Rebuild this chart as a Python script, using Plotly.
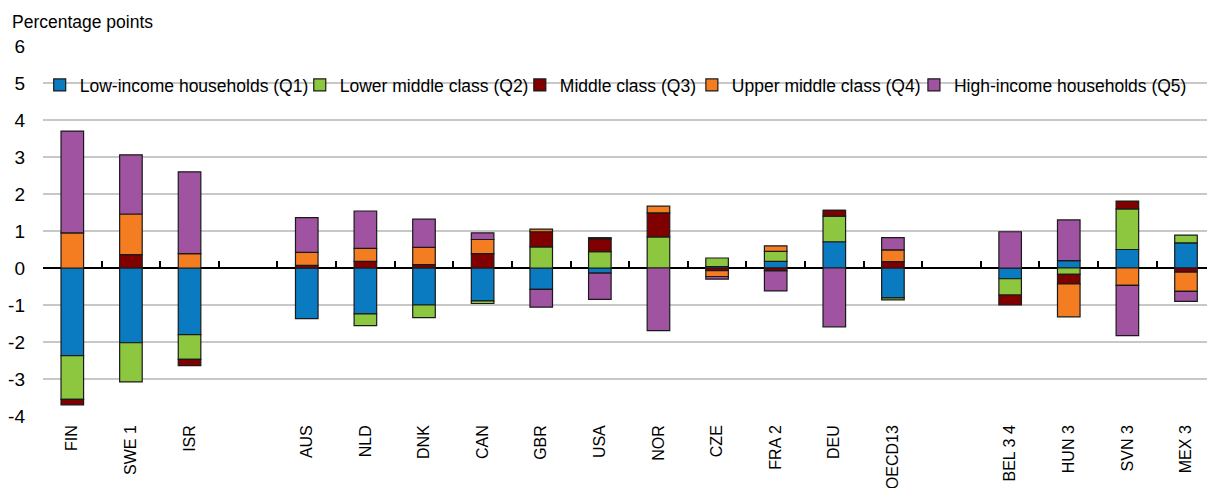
import plotly.graph_objects as go

categories = ["FIN", "SWE 1", "ISR", " ", "AUS", "NLD", "DNK", "CAN", "GBR", "USA",
              "NOR", "CZE", "FRA 2", "DEU", "OECD13", "  ", "BEL 3 4", "HUN 3", "SVN 3", "MEX 3"]

q1_low_income = [-2.37, -2.02, -1.80, None, -1.37, -1.24, -1.00, -0.89, -0.58, -0.14,
                 0.0, 0.04, 0.18, 0.71, -0.81, None, -0.29, 0.20, 0.50, 0.68]
q2_lower_middle = [-1.18, -1.06, -0.67, None, 0.0, -0.32, -0.34, -0.07, 0.57, 0.44,
                   0.84, 0.23, 0.27, 0.69, -0.05, None, -0.44, -0.17, 1.10, 0.21]
q3_middle = [-0.15, 0.36, -0.17, None, 0.07, 0.18, 0.09, 0.39, 0.41, 0.35,
             0.65, -0.07, -0.08, 0.16, 0.17, None, -0.27, -0.26, 0.21, -0.11]
q4_upper_middle = [0.95, 1.10, 0.39, None, 0.35, 0.35, 0.47, 0.38, 0.07, 0.03,
                   0.18, -0.16, 0.15, 0.0, 0.32, None, 0.0, -0.89, -0.47, -0.52]
q5_high_income = [2.75, 1.60, 2.21, None, 0.94, 1.01, 0.76, 0.18, -0.48, -0.71,
                  -1.69, -0.07, -0.54, -1.59, 0.33, None, 0.98, 1.10, -1.36, -0.27]

series_names = ["Low-income households (Q1)", "Lower middle class (Q2)", "Middle class (Q3)",
                "Upper middle class (Q4)", "High-income households (Q5)"]
series_values = [q1_low_income, q2_lower_middle, q3_middle, q4_upper_middle, q5_high_income]
series_colors = ["#0A7BC1", "#8DC63F", "#800000", "#F47D22", "#A053A0"]

y_ticks = [-4, -3, -2, -1, 0, 1, 2, 3, 4, 5, 6]
y_ticktext = ["-4", "-3", "-2", "-1", "0", "1", "2", "3", "4", "5", "6"]

W, H = 1207, 488
ML, MT, MR = 43.3, 46, 0
PLOT_BOTTOM = 415.7
MB = H - PLOT_BOTTOM
PW = W - ML - MR
PH = PLOT_BOTTOM - MT
FONT = "Liberation Sans, Arial, sans-serif"
TITLE_FS = 17.5
LEG_FS = 17.5
XT_FS = 16
YT_FS = 19

fig = go.Figure()
legend_names = ["legend", "legend2", "legend3", "legend4", "legend5"]
for name, vals, col, lg in zip(series_names, series_values, series_colors, legend_names):
    fig.add_trace(go.Bar(
        x=categories, y=vals, name=name, legend=lg,
        marker=dict(color=col, line=dict(color="#1a1a1a", width=1.2)),
        xaxis="x", yaxis="y",
    ))

# invisible helper trace for the label axis
fig.add_trace(go.Scatter(x=categories, y=[None] * len(categories), xaxis="x2", yaxis="y",
                         showlegend=False, hoverinfo="skip", mode="markers"))

# legend placement
legend_anchor_px = [56, 316, 536, 708, 930]
legend_layout = {}
for lg, px in zip(legend_names, legend_anchor_px):
    legend_layout[lg] = dict(
        orientation="h", x=(px - 16 - ML) / PW, xanchor="left",
        y=(PLOT_BOTTOM - 85) / PH, yanchor="middle",
        bgcolor="rgba(0,0,0,0)", borderwidth=0,
        font=dict(family=FONT, size=LEG_FS, color="#000000"),
    )

xr = [-0.5, -0.5 + PW / 58.6]

fig.update_layout(
    width=W, height=H,
    margin=dict(l=ML, r=MR, t=MT, b=MB, autoexpand=False),
    paper_bgcolor="white", plot_bgcolor="white",
    barmode="relative", bargap=0.615,
    font=dict(family=FONT, size=XT_FS, color="#000000"),
    title=dict(text="Percentage points", x=12 / W, xref="container", xanchor="left",
               y=1 - 22 / H, yref="container", yanchor="middle",
               font=dict(family=FONT, size=TITLE_FS, color="#000000")),
    xaxis=dict(
        type="category", categoryorder="array", categoryarray=categories,
        range=xr, anchor="free", position=0.4,
        showgrid=False, showline=False, zeroline=False,
        ticks="inside", ticklen=7, tickwidth=1.6, tickcolor="#000000",
        tickson="boundaries", showticklabels=False,
    ),
    xaxis2=dict(
        type="category", categoryorder="array", categoryarray=categories,
        overlaying="x", matches="x", anchor="y", side="bottom",
        showgrid=False, showline=False, zeroline=False, ticks="",
        tickangle=-90, automargin=False, ticklabelstandoff=5,
        tickfont=dict(family=FONT, size=XT_FS, color="#000000"),
    ),
    yaxis=dict(
        range=[-4, 6], tickvals=y_ticks, ticktext=y_ticktext,
        showgrid=True, gridcolor="#C8C8C8", gridwidth=1.6,
        zeroline=True, zerolinecolor="#000000", zerolinewidth=2,
        showline=False, ticks="", automargin=False, ticklabelstandoff=17,
        tickfont=dict(family=FONT, size=YT_FS, color="#000000"),
    ),
    showlegend=True,
    **legend_layout,
)

fig.write_html("out.html", config={"displayModeBar": False},
               post_script="document.body.style.margin='0px';")
